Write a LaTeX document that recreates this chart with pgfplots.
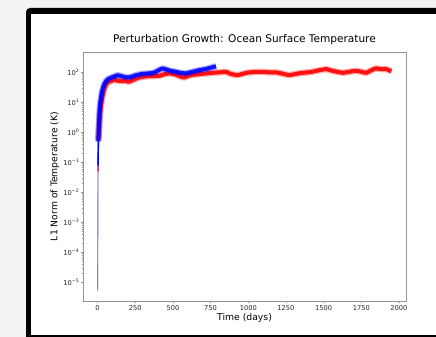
\documentclass[border=0pt]{standalone}
\usepackage{fontspec}
\setmainfont{DejaVu Sans}
\usepackage{pgfplots}
\pgfplotsset{compat=1.18}
\definecolor{bggray}{RGB}{243,243,246}
\definecolor{spine}{RGB}{150,150,150}
\pgfplotstableread{
t v
6 0.6
7 0.8
10 1.2
13 2.5
16 4
20 6.5
25 10
30 14
36 20
42 26
50 34
58 41
68 46
80 50
95 53
110 56
121 55
135 53
150 52
165 51
180 53
195 50
209 49
225 53
240 58
255 62
270 66
285 70
298 71
315 73
330 74
350 76
370 75
390 77
409 77
425 81
440 86
455 90
475 93
495 90
520 84
545 75
560 70
575 68
590 72
605 78
620 81
640 84
660 86
675 88
695 90
720 92
740 95
762 97
785 99
810 100
830 103
852 105
865 99
874 93
890 88
910 83
930 81
950 86
970 92
990 97
1007 100
1030 102
1050 104
1070 103
1096 105
1115 103
1140 100
1160 101
1185 100
1210 95
1230 90
1250 85
1273 81
1295 85
1320 90
1340 94
1362 97
1380 99
1400 101
1428 106
1450 112
1470 118
1495 124
1517 129
1540 120
1570 110
1600 102
1628 97
1650 101
1670 105
1695 110
1717 113
1735 109
1750 105
1765 100
1783 97
1800 107
1820 120
1835 130
1850 136
1870 131
1890 128
1905 130
1916 129
1930 120
1950 110
}\redband
\pgfplotstableread{
t v
5 0.5
7 1.2
10 2.5
13 5
16 8
20 12
25 18
30 24
36 31
42 38
50 46
58 53
68 59
76 62
88 66
100 70
115 75
132 80
150 77
170 72
190 69
209 68
230 73
250 79
270 84
287 88
310 91
330 92
350 94
365 95
385 104
400 115
415 125
431 136
450 128
470 118
495 110
520 105
540 99
560 95
586 93
610 99
630 105
655 112
675 119
700 125
720 130
740 139
760 148
775 155
786 160
}\blueband
\begin{document}
\begin{tikzpicture}
\begin{scope}
\clip (0bp,0bp) rectangle (436bp,337bp);
\fill[bggray] (0bp,0bp) rectangle (436bp,337bp);
\fill[black, rounded corners=4bp] (26bp,-10bp) rectangle (470bp,329bp);
\fill[white] (31bp,2bp) rectangle (470bp,323bp);
\end{scope}
\begin{axis}[
  anchor=south west, at={(83bp,36bp)}, scale only axis,
  width=323bp, height=249bp,
  xmin=-97, xmax=2047, ymode=log, ymin=2.4e-6, ymax=479,
  xtick={0,250,...,2000},
  ytick={1e-5,1e-4,1e-3,1e-2,1e-1,1,10,100},
  yticklabels={{10\textsuperscript{−5}},{10\textsuperscript{−4}},{10\textsuperscript{−3}},{10\textsuperscript{−2}},{10\textsuperscript{−1}},{10\textsuperscript{0}},{10\textsuperscript{1}},{10\textsuperscript{2}}},
  axis line style={spine, line width=0.7bp},
  tick style={spine, line width=0.6bp},
  tick align=outside, xtick pos=lower, ytick pos=lower,
  major tick length=2.5bp, minor tick length=1.5bp,
  ticklabel style={font=\fontsize{6.7}{8}\selectfont, text=black!85},
  xticklabel style={inner sep=1.5bp},
  yticklabel style={inner xsep=1bp},
  /pgf/number format/assume math mode=true, /pgf/number format/1000 sep={},
  title={Perturbation Growth: Ocean Surface Temperature},
  title style={font=\fontsize{10.6}{12}\selectfont, at={(axis description cs:0.5,1.026)}, anchor=center, inner sep=0pt},
  xlabel={Time (days)},
  xlabel style={font=\fontsize{9.3}{11}\selectfont, at={(axis description cs:0.5,-0.068)}, anchor=center, inner sep=0pt},
  ylabel={L1 Norm of Temperature (K)},
  ylabel style={font=\fontsize{9.3}{11}\selectfont, at={(axis description cs:-0.087,0.5)}, anchor=center, inner sep=0pt},
]
% red early part
\addplot[red!35, line width=0.9bp] coordinates {(0,5e-6)(1,1e-4)(2,3e-3)(3,0.05)};
\addplot[red, line width=1.4bp] coordinates {(3,0.05)(4,0.2)(5,0.4)(6,0.6)};
% red band: fuzz and core
\addplot[red, line width=6.5bp, opacity=0.3, line join=round] table[x=t,y=v] {\redband};
\addplot[red, line width=4bp, opacity=0.9, line join=round] table[x=t,y=v] {\redband};
% blue early part
\addplot[blue!55, line width=0.9bp] coordinates {(0,6e-6)(1,1.5e-4)(2,5e-3)(3,0.08)};
\addplot[blue, line width=1.4bp] coordinates {(3,0.08)(4,0.25)(5,0.5)};
% blue band: fuzz and core
\addplot[blue, line width=6.5bp, opacity=0.3, line join=round] table[x=t,y=v] {\blueband};
\addplot[blue, line width=4bp, opacity=0.9, line join=round] table[x=t,y=v] {\blueband};
\end{axis}
\pgfresetboundingbox
\useasboundingbox (0bp,0bp) rectangle (436bp,337bp);
\end{tikzpicture}
\end{document}
